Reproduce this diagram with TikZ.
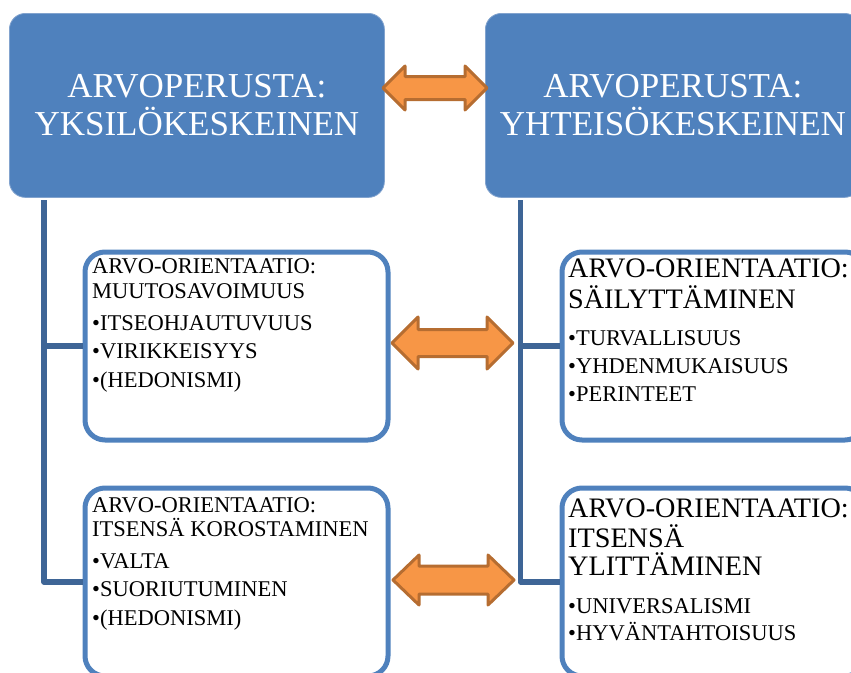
\documentclass[tikz,border=0pt]{standalone}
\usepackage{fontspec}
\setmainfont{Liberation Serif}
\usetikzlibrary{calc}

\definecolor{boxblue}{RGB}{79,129,189}
\definecolor{rimblue}{RGB}{130,163,206}
\definecolor{linkblue}{RGB}{62,101,150}
\definecolor{arrowfill}{RGB}{247,150,70}
\definecolor{arrowrim}{RGB}{182,109,49}

% stacked text lines with explicit baseline-to-baseline distances
\newcommand\txtrow[1]{\hbox{\smash{#1}}}
\newcommand\rowgap[1]{\vskip#1pt}
\newcommand\txtstack[1]{\vtop{\offinterlineskip#1}}
\newcommand\titlesize{\fontsize{28.2}{30}\selectfont}
\newcommand\itemsize{\fontsize{22.5}{25}\selectfont}

% double-headed block arrow: tip A, tip B, head length, head half-width, shaft half-width
\newcommand\blockarrow[5]{%
  \draw[dblarrow] (#1) -- ++(#3,-#4) -- ++(0,#4-#5) -- ($(#2)+(-#3,-#5)$)
    -- ++(0,#5-#4) -- (#2) -- ++(-#3,#4) -- ++(0,#5-#4)
    -- ($(#1)+(#3,#5)$) -- ++(0,#4-#5) -- cycle;}

\tikzset{
  topbox/.style={rectangle, rounded corners=16pt, fill=boxblue, draw=rimblue,
    line width=0.8pt, text=white, minimum width=375pt, minimum height=184pt,
    anchor=north west, align=center, inner sep=0pt,
    font=\fontsize{35}{38}\selectfont},
  valuebox/.style={rectangle, rounded corners=20pt, draw=boxblue, line width=5pt,
    fill=white, minimum width=303pt, minimum height=188pt, anchor=north west,
    inner sep=0pt},
  boxtext/.style={anchor=base west, inner sep=0pt, text=black, font=\itemsize},
  trunk/.style={draw=linkblue, line width=5.5pt, line join=round},
  dblarrow/.style={fill=arrowfill, draw=arrowrim, line width=3pt, line join=round},
}

\begin{document}
\begin{tikzpicture}[x=1pt, y=-1pt]
\useasboundingbox (0,0) rectangle (851,672);
\clip (0,0) rectangle (851,672);

% value bases
\node[topbox] (indiv) at (9,13) {ARVOPERUSTA:\\YKSILÖKESKEINEN};
\node[topbox] (commun) at (485,13) {ARVOPERUSTA:\\YHTEISÖKESKEINEN};

% value orientations
\node[valuebox] (open)  at (82.5,249.5) {};
\node[valuebox] (enh)   at (82.5,485.5) {};
\node[valuebox] (cons)  at (559.5,249.5) {};
\node[valuebox] (trans) at (559.5,485.5) {};

\node[boxtext] (opentxt) at (92,273) {\txtstack{%
  \txtrow{ARVO-ORIENTAATIO:}\rowgap{25}
  \txtrow{MUUTOSAVOIMUUS}\rowgap{32}
  \txtrow{\textbullet ITSEOHJAUTUVUUS}\rowgap{28.5}
  \txtrow{\textbullet VIRIKKEISYYS}\rowgap{28.5}
  \txtrow{\textbullet(HEDONISMI)}}};

\node[boxtext] (enhtxt) at (92,512) {\txtstack{%
  \txtrow{ARVO-ORIENTAATIO:}\rowgap{24}
  \txtrow{ITSENSÄ KOROSTAMINEN}\rowgap{32}
  \txtrow{\textbullet VALTA}\rowgap{28.5}
  \txtrow{\textbullet SUORIUTUMINEN}\rowgap{28.5}
  \txtrow{\textbullet(HEDONISMI)}}};

\node[boxtext] (constxt) at (568,277) {\txtstack{%
  \txtrow{\titlesize ARVO-ORIENTAATIO:}\rowgap{31}
  \txtrow{\titlesize SÄILYTTÄMINEN}\rowgap{37}
  \txtrow{\textbullet TURVALLISUUS}\rowgap{28}
  \txtrow{\textbullet YHDENMUKAISUUS}\rowgap{28}
  \txtrow{\textbullet PERINTEET}}};

\node[boxtext] (transtxt) at (568,517) {\txtstack{%
  \txtrow{\titlesize ARVO-ORIENTAATIO:}\rowgap{30}
  \txtrow{\titlesize ITSENSÄ}\rowgap{28}
  \txtrow{\titlesize YLITTÄMINEN}\rowgap{38}
  \txtrow{\textbullet UNIVERSALISMI}\rowgap{27}
  \txtrow{\textbullet HYVÄNTAHTOISUUS}}};

% connectors from each value base to its orientations
\coordinate (trunkL) at (44,200);
\coordinate (trunkR) at (520.5,200);
\draw[trunk] (trunkL) |- (enh.west);
\draw[trunk] (trunkL |- open.west) -- (open.west);
\draw[trunk] (trunkR) |- (trans.west);
\draw[trunk] (trunkR |- cons.west) -- (cons.west);

% opposing pairs
\coordinate (topA) at (383,88);   \coordinate (topB) at (487,88);
\coordinate (midA) at (392,343);  \coordinate (midB) at (513,343);
\coordinate (lowA) at (393,580);  \coordinate (lowB) at (514,580);
\blockarrow{topA}{topB}{22}{22}{11.5}
\blockarrow{midA}{midB}{26}{26}{13.5}
\blockarrow{lowA}{lowB}{26}{25}{14}
\end{tikzpicture}
\end{document}
